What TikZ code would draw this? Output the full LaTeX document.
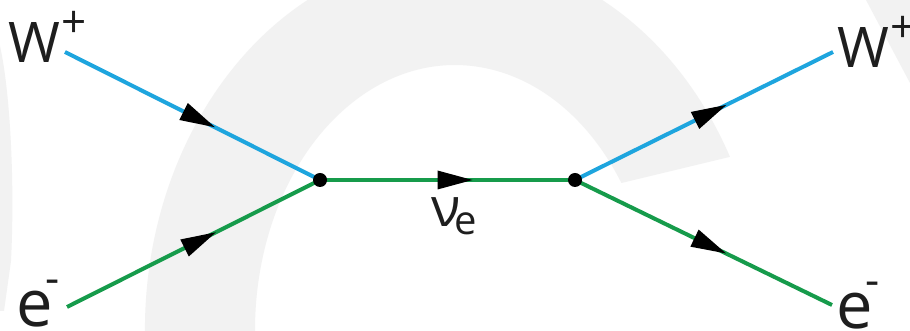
\documentclass[tikz,border=0pt]{standalone}
\usepackage{fontspec}
\setmainfont{Open Sans}
\usetikzlibrary{decorations.markings}
\definecolor{wblue}{RGB}{30,165,222}
\definecolor{fgreen}{RGB}{22,155,75}
\definecolor{wmark}{RGB}{242,242,242}
\definecolor{ink}{RGB}{30,30,30}
\begin{document}
\begin{tikzpicture}[x=1pt,y=1pt,
  fermion/.style={line width=4pt, postaction={decorate},
    decoration={markings, mark=at position 0.5 with {\fill[black] (-10pt,-9.5pt) -- (25pt,0pt) -- (-10pt,9.5pt) -- cycle;}}},
  vdot/.style={circle, fill=black, inner sep=0pt, minimum size=14pt},
  lbl/.style={inner sep=0pt, anchor=base west, text=ink},
  wm/.style={fill=wmark}]
\useasboundingbox (0,0) rectangle (910,331);
\fill[white] (0,0) rectangle (910,331);
% faint watermark
\begin{scope}
\clip (0,0) rectangle (910,331);
\fill[wm] (455pt,1pt) ++(190:310pt and 375pt)
  arc[start angle=190, end angle=27.5, x radius=310pt, y radius=375pt]
  -- (621.4,148)
  arc[start angle=33.7, end angle=190, x radius=200pt, y radius=265pt] -- cycle;
\fill[wm] (866,331) -- (910,331) -- (910,248) -- cycle;
\fill[wm] (0,285) .. controls (10,240) and (15,150) .. (11,70) -- (4,20) -- (0,20) -- cycle;
\end{scope}
% vertices and free ends
\coordinate (v1) at (320,151);
\coordinate (v2) at (575,151);
\coordinate (wlend) at (65,279);
\coordinate (elend) at (67,24);
\coordinate (wrend) at (833,279);
\coordinate (erend) at (832,26);
% labels
\node[lbl] (wl) at (8,268) {{\fontsize{56}{56}\selectfont W}\kern1pt\raisebox{25pt}{\fontsize{44}{44}\selectfont +}};
\node[lbl] (wr) at (837,263) {{\fontsize{56}{56}\selectfont W}\kern1pt\raisebox{25pt}{\fontsize{44}{44}\selectfont +}};
\node[lbl] (el) at (16,4.5) {{\fontsize{65}{65}\selectfont e}\kern-7pt\raisebox{33pt}{\fontsize{44}{44}\selectfont -}};
\node[lbl] (er) at (836,2.5) {{\fontsize{65}{65}\selectfont e}\kern-7pt\raisebox{33pt}{\fontsize{44}{44}\selectfont -}};
\node[lbl] (nu) at (431,104) {{\fontsize{54}{54}\selectfont ν}\kern-6pt\raisebox{-8pt}{\fontsize{40}{40}\selectfont e}};
% propagators
\draw[fermion, wblue] (wlend) -- (v1);
\draw[fermion, fgreen] (elend) -- (v1);
\draw[fermion, fgreen] (v1) -- (v2);
\draw[fermion, wblue] (v2) -- (wrend);
\draw[fermion, fgreen] (v2) -- (erend);
\node[vdot] (d1) at (v1) {};
\node[vdot] (d2) at (v2) {};
\end{tikzpicture}
\end{document}
